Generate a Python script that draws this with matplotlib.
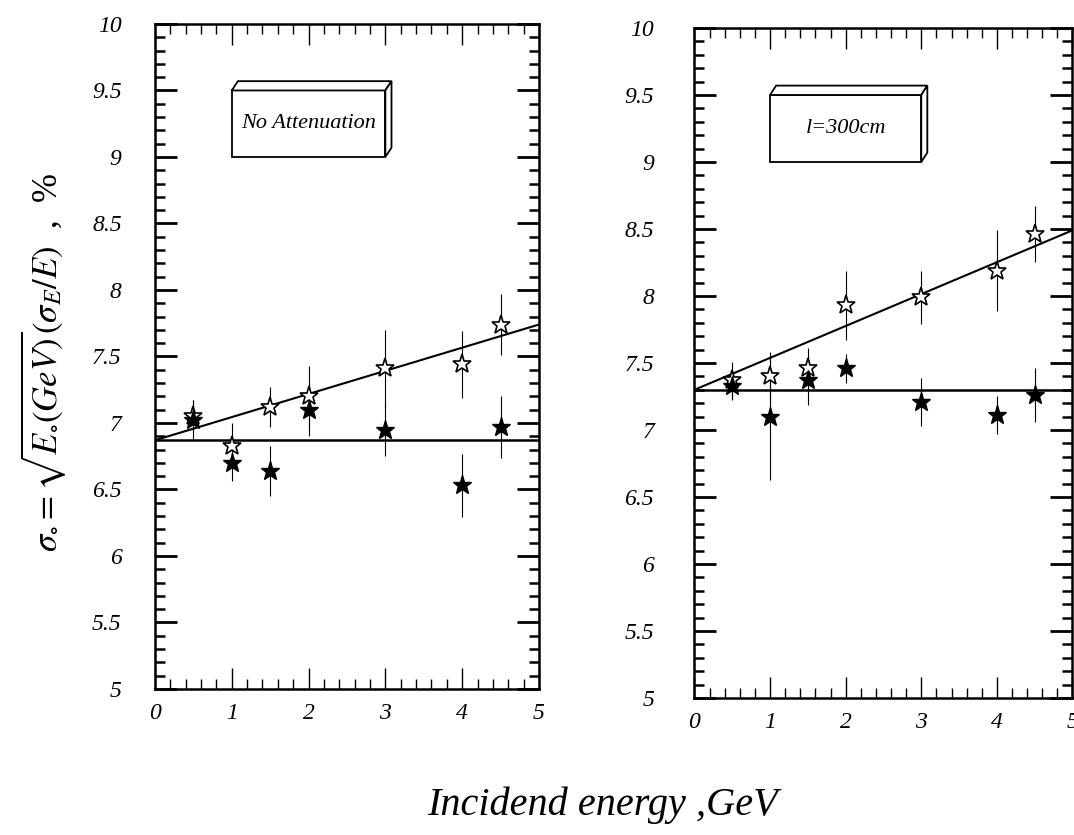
import numpy as np
import matplotlib.pyplot as plt
from matplotlib.patches import Polygon, Rectangle
from matplotlib.ticker import MultipleLocator, FuncFormatter

plt.rcParams['mathtext.fontset'] = 'stix'
plt.rcParams['font.family'] = ['Liberation Serif', 'DejaVu Serif']

# incident energy, GeV
energy = [0.5, 1, 1.5, 2, 3, 4, 4.5]

# no attenuation
open_noatt = [7.05, 6.83, 7.12, 7.20, 7.41, 7.44, 7.74]
open_noatt_err = [0.12, 0.17, 0.15, 0.23, 0.29, 0.25, 0.23]
full_noatt = [7.02, 6.70, 6.64, 7.10, 6.95, 6.53, 6.97]
full_noatt_err = [0.15, 0.14, 0.19, 0.20, 0.20, 0.24, 0.23]

# l = 300 cm
open_att = [7.37, 7.40, 7.46, 7.93, 7.99, 8.19, 8.46]
open_att_err = [0.14, 0.18, 0.15, 0.26, 0.20, 0.30, 0.21]
full_att = [7.33, 7.10, 7.37, 7.46, 7.21, 7.11, 7.26]
full_att_err = [0.11, 0.47, 0.18, 0.11, 0.18, 0.14, 0.20]

# fitted lines (end points at E=0 and E=5)
fit_x = [0, 5]
fit_open_noatt = [6.87, 7.74]
fit_full_noatt = [6.87, 6.87]
fit_open_att = [7.30, 8.49]
fit_full_att = [7.30, 7.30]

panels = [
    ("No Attenuation", open_noatt, open_noatt_err, full_noatt, full_noatt_err,
     fit_open_noatt, fit_full_noatt),
    ("l=300cm", open_att, open_att_err, full_att, full_att_err,
     fit_open_att, fit_full_att),
]
rects = [[0.1443, 0.1749, 0.3575, 0.7964], [0.6466, 0.1641, 0.3520, 0.8024]]
ypads = [24, 29]

fig = plt.figure(figsize=(10.74, 8.35), dpi=100)

def fmt(v, pos):
    return ("%g" % v)

def draw_box(ax, text, x0=1, x1=3, y0=9, y1=9.5, dx=0.08, dy=0.07):
    ax.add_patch(Rectangle((x0, y0), x1 - x0, y1 - y0, fc="white", ec="black", lw=1.3, zorder=4))
    ax.add_patch(Polygon([(x0, y1), (x0 + dx, y1 + dy), (x1 + dx, y1 + dy), (x1, y1)],
                         closed=True, fc="white", ec="black", lw=1.3, zorder=4))
    ax.add_patch(Polygon([(x1, y1), (x1 + dx, y1 + dy), (x1 + dx, y0 + dy), (x1, y0)],
                         closed=True, fc="white", ec="black", lw=1.3, zorder=4))
    ax.text((x0 + x1) / 2, (y0 + y1) / 2, text, ha="center", va="center",
            fontsize=16, style="italic", zorder=5)

for rect, ypad, (name, op, ope, fu, fue, fo, ff) in zip(rects, ypads, panels):
    ax = fig.add_axes(rect)
    ax.plot(fit_x, fo, color="black", lw=1.5, zorder=2)
    ax.plot(fit_x, ff, color="black", lw=1.8, zorder=2)
    ax.errorbar(energy, op, yerr=ope, fmt="none", ecolor="black", elinewidth=0.8, zorder=1)
    ax.errorbar(energy, fu, yerr=fue, fmt="none", ecolor="black", elinewidth=0.8, zorder=1)
    ax.plot(energy, op, ls="none", marker="*", ms=14, mfc="white", mec="black", mew=1.2, zorder=3)
    ax.plot(energy, fu, ls="none", marker="*", ms=14, mfc="black", mec="black", mew=1.0, zorder=3)
    draw_box(ax, name)

    ax.set_xlim(0, 5)
    ax.set_ylim(5, 10)
    ax.xaxis.set_major_locator(MultipleLocator(1))
    ax.xaxis.set_minor_locator(MultipleLocator(0.2))
    ax.yaxis.set_major_locator(MultipleLocator(0.5))
    ax.yaxis.set_minor_locator(MultipleLocator(0.1))
    ax.xaxis.set_major_formatter(FuncFormatter(fmt))
    ax.yaxis.set_major_formatter(FuncFormatter(fmt))
    ax.tick_params(axis="both", which="both", direction="in", top=True, right=True, colors="black")
    ax.tick_params(axis="y", which="major", length=16, width=2.0, pad=ypad)
    ax.tick_params(axis="y", which="minor", length=7, width=1.8)
    ax.tick_params(axis="x", which="major", length=15, width=1.0, pad=10)
    ax.tick_params(axis="x", which="minor", length=7, width=1.0)
    for lab in ax.get_xticklabels() + ax.get_yticklabels():
        lab.set_fontsize(17)
        lab.set_style("italic")
    for sp in ax.spines.values():
        sp.set_linewidth(1.8)

fig.text(0.04, 0.566, r"$\sigma_{\circ} = \sqrt{E_{\circ}(GeV)}(\sigma_E/E)$  ,  %",
         rotation=90, ha="center", va="center", fontsize=25)
fig.text(0.561, 0.036, "Incidend energy ,GeV", ha="center", va="center",
         fontsize=29, style="italic")

fig.savefig("out.png", dpi=100)
